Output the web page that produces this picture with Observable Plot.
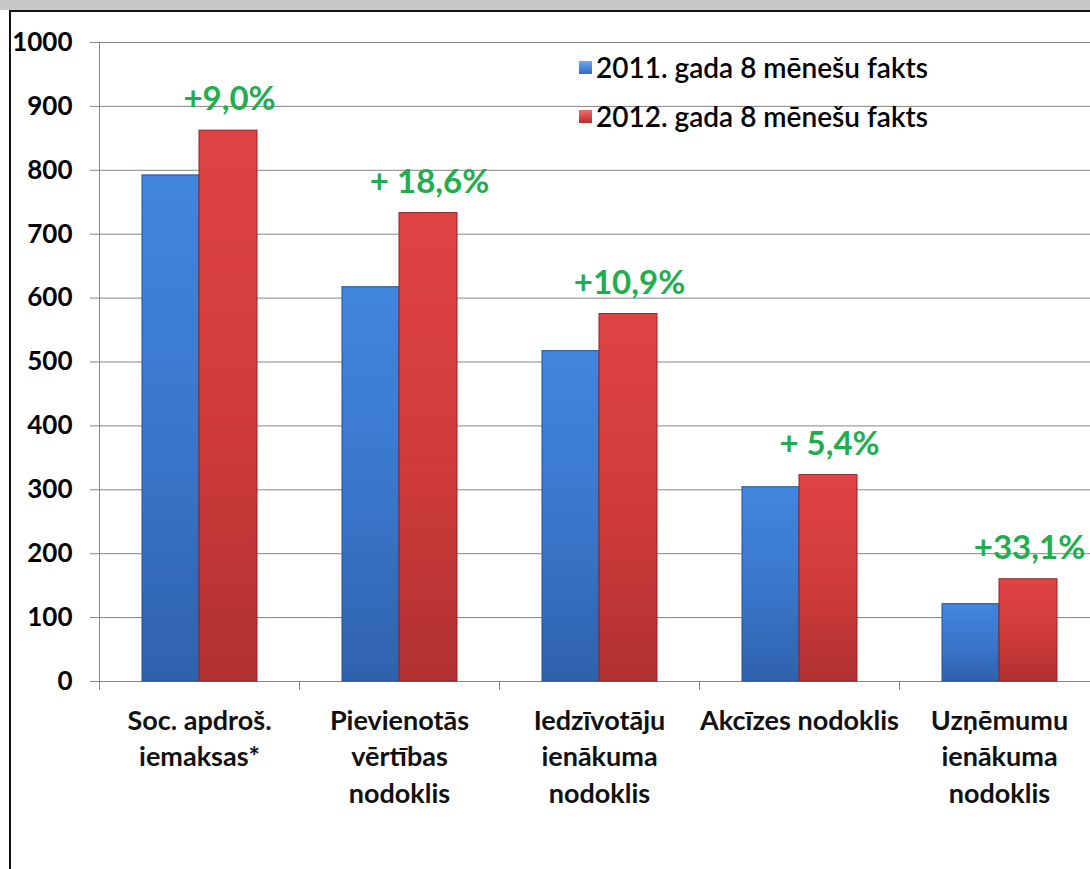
<!DOCTYPE html>
<html>
<head>
<meta charset="utf-8">
<script src="https://cdn.jsdelivr.net/npm/d3@7"></script>
<script src="https://cdn.jsdelivr.net/npm/@observablehq/plot@0.6"></script>
<style>
  html, body { margin: 0; padding: 0; background: #fff; }
  #wrap { position: relative; width: 1090px; height: 869px; overflow: hidden; background: #fff; font-family: Lato, "Open Sans", sans-serif; }
  #topband { position: absolute; left: 0; top: 0; width: 1090px; height: 10px; background: #c8c8c8; }
  #border { position: absolute; left: 9px; top: 10px; width: 1090px; height: 870px; border-top: 2px solid #111; border-left: 2px solid #111; }
  #chart { position: absolute; left: 0; top: 0; }
  #legend { position: absolute; left: 579px; top: 50px; font-size: 28px; color: #000; font-weight: 600; }
  .row { display: flex; align-items: center; height: 34px; margin-bottom: 15px; white-space: nowrap; }
  .sw { width: 13px; height: 13px; margin-right: 4px; }
</style>
</head>
<body>
<div id="wrap">
  <div id="topband"></div>
  <div id="border"></div>
  <div id="chart"></div>
  <div id="legend"></div>
</div>
<script>
const categories = ["Soc. apdroš.\niemaksas*", "Pievienotās\nvērtības\nnodoklis", "Iedzīvotāju\nienākuma\nnodoklis", "Akcīzes nodoklis", "Uzņēmumu\nienākuma\nnodoklis"];
const values2011 = [792, 617, 517, 304, 121];
const values2012 = [862, 733, 575, 323, 160];
const changeLabels = ["+9,0%", "+ 18,6%", "+10,9%", "+ 5,4%", "+33,1%"];
const yTicks = [0, 100, 200, 300, 400, 500, 600, 700, 800, 900, 1000];
const seriesNames = ["2011. gada 8 mēnešu fakts", "2012. gada 8 mēnešu fakts"];
const seriesColors = ["url(#gBlue)", "url(#gRed)"];

const rows = categories.map((c, i) => ({cat: c, v2011: values2011[i], v2012: values2012[i], label: changeLabels[i]}));
const gridColor = "#858585";

const chart = Plot.plot({
  width: 1090,
  height: 869,
  marginTop: 42,
  marginBottom: 188,
  marginLeft: 99,
  marginRight: 0,
  style: {fontFamily: "Lato, 'Open Sans', sans-serif", background: "transparent", overflow: "hidden"},
  x: {domain: categories, range: [99, 1099], padding: 0, axis: null},
  y: {domain: [0, 1000], axis: null},
  marks: [
    Plot.ruleY(yTicks, {stroke: gridColor, strokeWidth: 1}),
    Plot.axisY({ticks: yTicks, tickFormat: d => String(d), tickSize: 9, tickPadding: 18, stroke: gridColor, fill: "#000", fontSize: 26, fontWeight: "bold", label: null}),
    Plot.ruleX(categories, {x: d => d, y1: -14, y2: (d, i) => i === 0 ? 1000 : 0, dx: -100, stroke: gridColor}),
    Plot.barY(rows, {x: "cat", y: "v2011", fill: seriesColors[0], stroke: "#244f8f", strokeWidth: 1, insetLeft: 43, insetRight: 100}),
    Plot.barY(rows, {x: "cat", y: "v2012", fill: seriesColors[1], stroke: "#8e2424", strokeWidth: 1, insetLeft: 100, insetRight: 42}),
    Plot.ruleY(rows, {x: "cat", y: "v2011", stroke: "#6aa6ee", strokeWidth: 5, dy: 3, insetLeft: 47, insetRight: 104}),
    Plot.ruleY(rows, {x: "cat", y: "v2012", stroke: "#ee6b6b", strokeWidth: 5, dy: 3, insetLeft: 104, insetRight: 46}),
    Plot.text(rows, {x: "cat", y: "v2012", text: "label", dx: 30, dy: -31, fill: "#21ad4f", fontSize: 33, fontWeight: "bold", lineAnchor: "middle"}),
    Plot.axisX({tickSize: 0, tickPadding: 22, lineAnchor: "top", lineHeight: 1.36, fontSize: 27, fontWeight: "bold", fill: "#111", label: null})
  ]
});

const svg = d3.select(chart);
const defs = svg.insert("defs", ":first-child");
function grad(id, stops, vertical) {
  const g = defs.append("linearGradient").attr("id", id)
    .attr("x1", "0").attr("x2", vertical ? "0" : "1").attr("y1", "0").attr("y2", vertical ? "1" : "0");
  stops.forEach(([o, c]) => g.append("stop").attr("offset", o).attr("stop-color", c));
}
grad("gBlue", [["0", "#4186de"], ["0.5", "#3a77cc"], ["1", "#2e62ad"]], true);
grad("gRed", [["0", "#df4444"], ["0.5", "#d23b3b"], ["1", "#b03131"]], true);
document.getElementById("chart").appendChild(chart);

const legend = d3.select("#legend");
seriesNames.forEach((name, i) => {
  const r = legend.append("div").attr("class", "row");
  r.append("div").attr("class", "sw").style("background", i === 0 ? "linear-gradient(#6fa8ee,#2f6cc0)" : "linear-gradient(#ee6a6a,#b92d2d)");
  r.append("span").text(name);
});
</script>
</body>
</html>
